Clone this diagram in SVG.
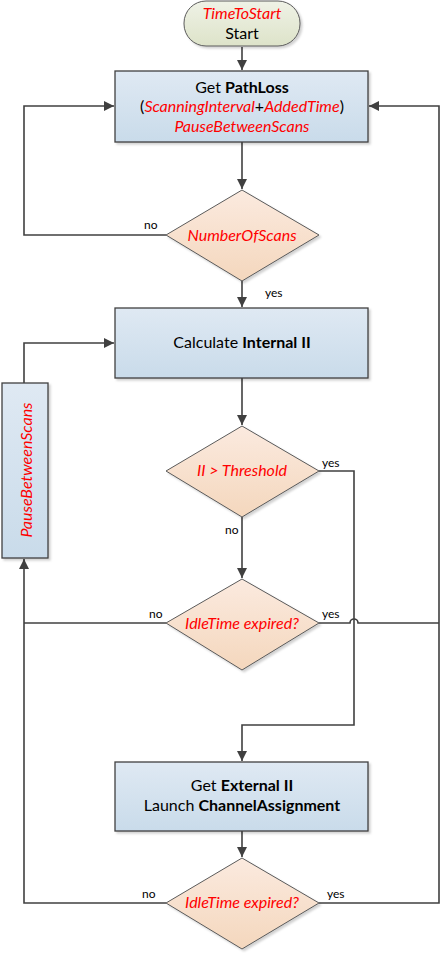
<svg xmlns="http://www.w3.org/2000/svg" width="441" height="953" viewBox="0 0 441 953">
<style>
  text{font-family:Lato,"Open Sans","Liberation Sans",sans-serif;font-size:16px;fill:#000}
  .r{fill:#ff0000;font-style:italic}
  .b{font-weight:bold}
  .lbl{font-size:12px}
  .box{fill:url(#gBox);stroke:#404040;stroke-width:1.3;filter:url(#sh)}
  .dia{fill:url(#gDia);stroke:#5a5a5a;stroke-width:1;filter:url(#sh)}
  .ln{fill:none;stroke:#404040;stroke-width:1.6}
</style>
<defs>
  <linearGradient id="gBox" x1="0" y1="0" x2="0" y2="1"><stop offset="0" stop-color="#dfe9f3"/><stop offset="1" stop-color="#c9dbea"/></linearGradient>
  <linearGradient id="gDia" x1="0" y1="0" x2="0" y2="1"><stop offset="0" stop-color="#fbeadf"/><stop offset="1" stop-color="#f4d7bd"/></linearGradient>
  <linearGradient id="gTerm" x1="0" y1="0" x2="0" y2="1"><stop offset="0" stop-color="#eff2e6"/><stop offset="1" stop-color="#dde3c9"/></linearGradient>
  <filter id="sh" x="-10%" y="-10%" width="125%" height="125%"><feDropShadow dx="2" dy="2" stdDeviation="1.2" flood-color="#000" flood-opacity="0.18"/></filter>
  <marker id="ar" viewBox="0 0 10 10" refX="10" refY="5" markerWidth="10" markerHeight="10" markerUnits="userSpaceOnUse" orient="auto"><path d="M0,0 L10,5 L0,10 z" fill="#404040"/></marker>
</defs>
<g id="connectors">
  <path class="ln" d="M242,47 V70" marker-end="url(#ar)"/>
  <path class="ln" d="M242,142 V189" marker-end="url(#ar)"/>
  <path class="ln" d="M166,235 H24 V106 H114" marker-end="url(#ar)"/>
  <path class="ln" d="M242,281 V307" marker-end="url(#ar)"/>
  <path class="ln" d="M242,378 V425" marker-end="url(#ar)"/>
  <path class="ln" d="M242,517 V578" marker-end="url(#ar)"/>
  <path class="ln" d="M319,471 H354 V725 H242 V761" marker-end="url(#ar)"/>
  <path class="ln" d="M166,623 H24"/>
  <path class="ln" d="M319,623 H350 A4,4 0 0 1 358,623 H439"/>
  <path class="ln" d="M24,383 V343 H114" marker-end="url(#ar)"/>
  <path class="ln" d="M242,831 V857" marker-end="url(#ar)"/>
  <path class="ln" d="M166,903 H24 V559" marker-end="url(#ar)"/>
  <path class="ln" d="M319,903 H439 V106 H369" marker-end="url(#ar)"/>
  <text class="lbl" x="144" y="229">no</text>
  <text class="lbl" x="265" y="297">yes</text>
  <text class="lbl" x="322" y="467">yes</text>
  <text class="lbl" x="225" y="534">no</text>
  <text class="lbl" x="149" y="618">no</text>
  <text class="lbl" x="322" y="618">yes</text>
  <text class="lbl" x="142" y="898">no</text>
  <text class="lbl" x="327" y="898">yes</text>
</g>
<g id="start">
  <rect x="184" y="1" width="116" height="45" rx="22" fill="url(#gTerm)" stroke="#5a5a5a" stroke-width="1" filter="url(#sh)"/>
  <text x="242" y="19" text-anchor="middle" class="r">TimeToStart</text>
  <text x="242" y="39" text-anchor="middle">Start</text>
</g>
<g id="getPathLoss">
  <rect class="box" x="115" y="71" width="253" height="71"/>
  <text x="242" y="93" text-anchor="middle">Get <tspan class="b">PathLoss</tspan></text>
  <text x="242" y="112" text-anchor="middle">(<tspan class="r">ScanningInterval</tspan>+<tspan class="r">AddedTime</tspan>)</text>
  <text x="242" y="132" text-anchor="middle" class="r">PauseBetweenScans</text>
</g>
<g id="numberOfScans">
  <polygon class="dia" points="242,190 319,235 242,281 166,235"/>
  <text x="242" y="241" text-anchor="middle" class="r">NumberOfScans</text>
</g>
<g id="calcInternal">
  <rect class="box" x="115" y="308" width="253" height="70"/>
  <text x="242" y="348" text-anchor="middle">Calculate <tspan class="b">Internal II</tspan></text>
</g>
<g id="threshold">
  <polygon class="dia" points="242,426 319,471 242,517 166,471"/>
  <text x="242" y="476" text-anchor="middle" class="r">II &gt; Threshold</text>
</g>
<g id="idle1">
  <polygon class="dia" points="242,579 319,623 242,670 166,623"/>
  <text x="242" y="629" text-anchor="middle" class="r">IdleTime expired?</text>
</g>
<g id="pause">
  <rect class="box" x="2" y="383" width="46" height="175"/>
  <text transform="translate(32,470) rotate(-90)" text-anchor="middle" class="r">PauseBetweenScans</text>
</g>
<g id="getExternal">
  <rect class="box" x="115" y="762" width="253" height="69"/>
  <text x="242" y="791" text-anchor="middle">Get <tspan class="b">External II</tspan></text>
  <text x="242" y="811" text-anchor="middle">Launch <tspan class="b">ChannelAssignment</tspan></text>
</g>
<g id="idle2">
  <polygon class="dia" points="242,858 319,903 242,949 166,903"/>
  <text x="242" y="908" text-anchor="middle" class="r">IdleTime expired?</text>
</g>
</svg>
